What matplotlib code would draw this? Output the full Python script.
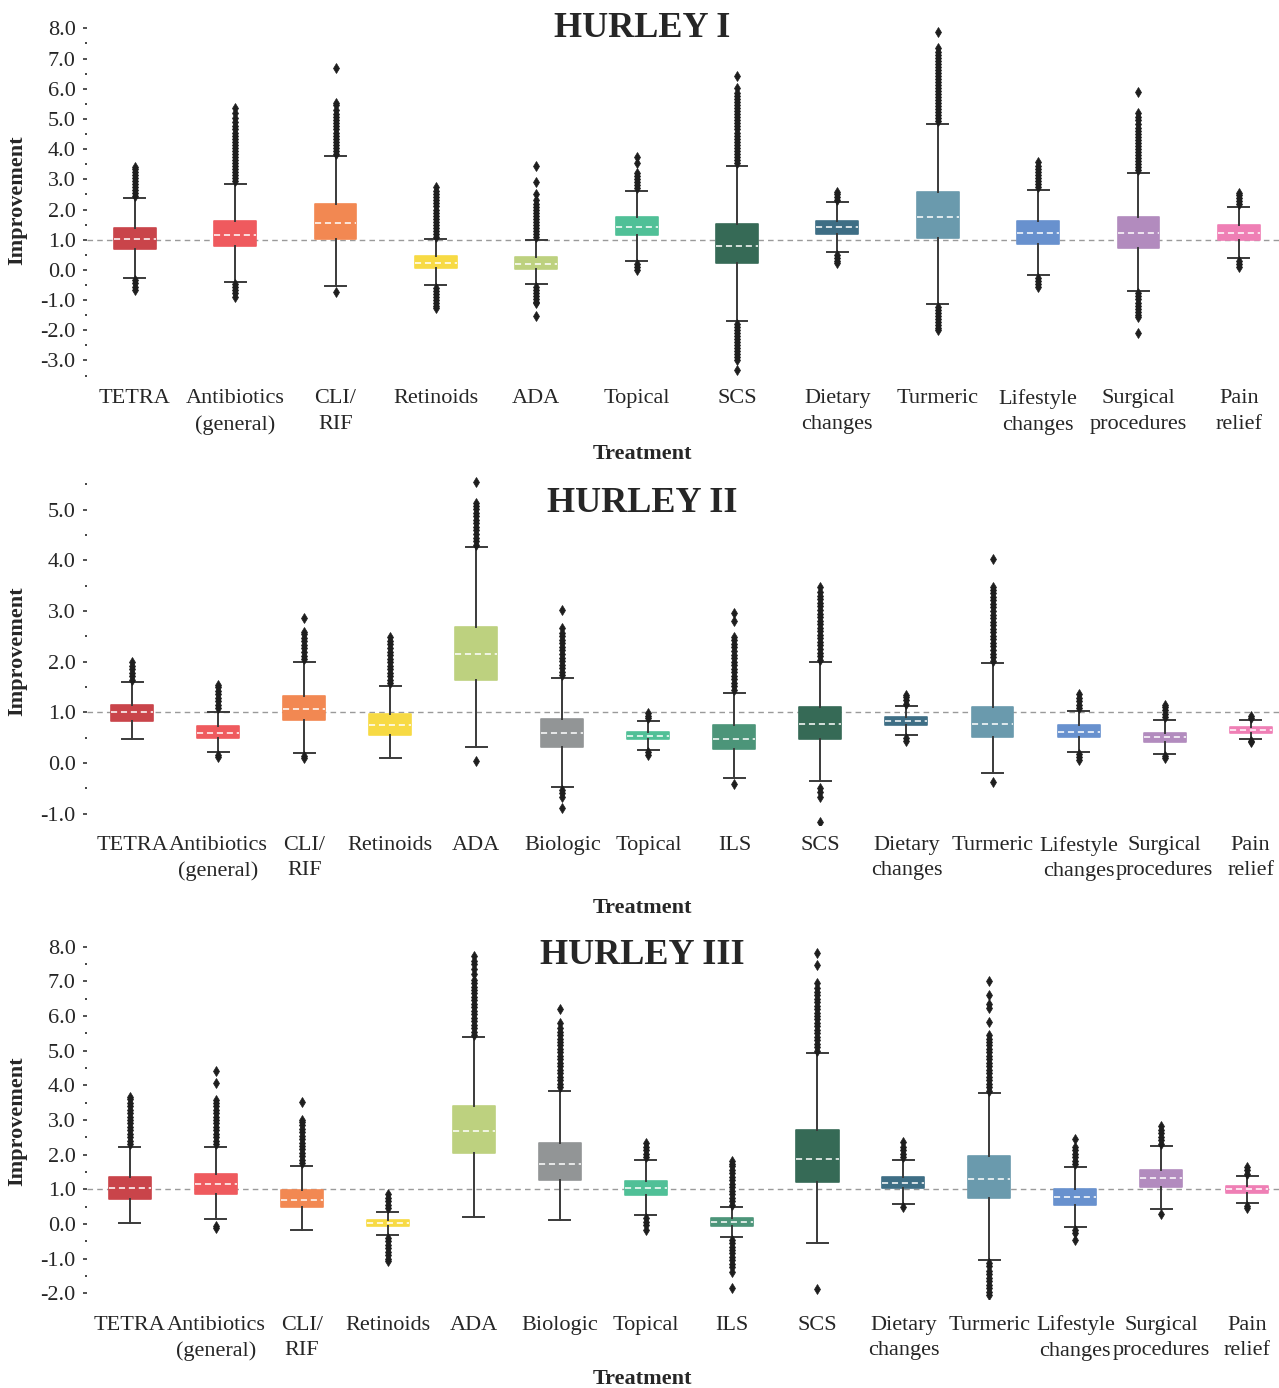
import matplotlib
matplotlib.use("Agg")
import matplotlib.pyplot as plt
from matplotlib.ticker import MultipleLocator, FormatStrFormatter

plt.rcParams['font.family'] = ['Liberation Serif', 'DejaVu Serif']
plt.rcParams['axes.unicode_minus'] = False

# ---------------- data ----------------
COLORS = {
    'TETRA': '#C9444A',
    'Antibiotics\n(general)': '#EF5A5E',
    'CLI/\nRIF': '#F28852',
    'Retinoids': '#F7DA44',
    'ADA': '#BDD17F',
    'Biologic': '#929596',
    'Topical': '#50C097',
    'ILS': '#4C9579',
    'SCS': '#366A56',
    'Dietary\nchanges': '#3E6E85',
    'Turmeric': '#6A9AAD',
    'Lifestyle\nchanges': '#6891CE',
    'Surgical\nprocedures': '#B28BBE',
    'Pain\nrelief': '#EF7FB5',
}

# HURLEY I
h1_cats = ['TETRA', 'Antibiotics\n(general)', 'CLI/\nRIF', 'Retinoids', 'ADA', 'Topical', 'SCS',
           'Dietary\nchanges', 'Turmeric', 'Lifestyle\nchanges', 'Surgical\nprocedures', 'Pain\nrelief']
h1_q1 = [0.68, 0.78, 1.03, 0.05, 0.04, 1.15, 0.22, 1.18, 1.06, 0.87, 0.74, 1.00]
h1_med = [1.02, 1.17, 1.55, 0.23, 0.20, 1.43, 0.80, 1.41, 1.76, 1.22, 1.21, 1.23]
h1_q3 = [1.40, 1.62, 2.17, 0.46, 0.44, 1.75, 1.53, 1.62, 2.59, 1.62, 1.74, 1.48]
h1_whislo = [-0.28, -0.40, -0.53, -0.51, -0.46, 0.30, -1.69, 0.58, -1.14, -0.18, -0.70, 0.39]
h1_whishi = [2.37, 2.85, 3.76, 1.02, 0.99, 2.62, 3.45, 2.24, 4.84, 2.65, 3.22, 2.09]
h1_fliers = [
    [2.45, 2.55, 2.65, 2.75, 2.85, 2.95, 3.05, 3.15, 3.25, 3.35, 3.42, -0.35, -0.45, -0.55, -0.67],
    [2.95, 3.05, 3.15, 3.25, 3.35, 3.45, 3.55, 3.65, 3.75, 3.85, 3.95, 4.05, 4.15, 4.25, 4.35, 4.45,
     4.55, 4.65, 4.78, 4.9, 5.02, 5.2, 5.35, -0.48, -0.58, -0.68, -0.78, -0.89],
    [3.85, 3.95, 4.05, 4.15, 4.25, 4.35, 4.45, 4.55, 4.65, 4.75, 4.85, 4.95, 5.05, 5.15, 5.3, 5.45,
     5.52, 6.68, -0.73],
    [1.1, 1.2, 1.3, 1.4, 1.5, 1.6, 1.7, 1.8, 1.9, 2.0, 2.1, 2.2, 2.3, 2.4, 2.5, 2.6, 2.76,
     -0.6, -0.7, -0.8, -0.9, -1.0, -1.1, -1.2, -1.27],
    [1.08, 1.18, 1.28, 1.38, 1.48, 1.58, 1.68, 1.78, 1.88, 1.98, 2.08, 2.18, 2.31, 2.5, 2.9, 3.45,
     -0.55, -0.65, -0.75, -0.85, -0.95, -1.05, -1.11, -1.53],
    [2.7, 2.8, 2.9, 3.0, 3.1, 3.2, 3.53, 3.75, 0.2, 0.1, 0.0],
    [3.55, 3.65, 3.75, 3.85, 3.95, 4.05, 4.15, 4.25, 4.35, 4.45, 4.55, 4.65, 4.75, 4.85, 4.95, 5.05,
     5.15, 5.25, 5.35, 5.45, 5.55, 5.65, 5.75, 5.85, 6.01, 6.42,
     -1.78, -1.88, -1.98, -2.08, -2.18, -2.28, -2.38, -2.48, -2.58, -2.68, -2.78, -2.88, -2.98, -3.31],
    [2.32, 2.42, 2.52, 2.59, 0.5, 0.4, 0.3, 0.22],
    [4.92, 5.02, 5.12, 5.22, 5.32, 5.42, 5.52, 5.62, 5.72, 5.82, 5.92, 6.02, 6.12, 6.22, 6.32, 6.42,
     6.52, 6.62, 6.72, 6.82, 6.92, 7.02, 7.12, 7.22, 7.34, 7.88,
     -1.22, -1.32, -1.42, -1.52, -1.62, -1.72, -1.82, -1.92, -1.99],
    [2.73, 2.83, 2.93, 3.03, 3.13, 3.23, 3.33, 3.43, 3.58, -0.26, -0.36, -0.46, -0.56],
    [3.3, 3.4, 3.5, 3.6, 3.7, 3.8, 3.9, 4.0, 4.1, 4.2, 4.3, 4.4, 4.5, 4.6, 4.7, 4.82, 4.95, 5.08,
     5.19, 5.88, -0.78, -0.88, -0.98, -1.08, -1.18, -1.28, -1.38, -1.48, -1.55, -2.10],
    [2.17, 2.27, 2.37, 2.47, 2.56, 0.31, 0.21, 0.11],
]

# HURLEY II
h2_cats = ['TETRA', 'Antibiotics\n(general)', 'CLI/\nRIF', 'Retinoids', 'ADA', 'Biologic', 'Topical',
           'ILS', 'SCS', 'Dietary\nchanges', 'Turmeric', 'Lifestyle\nchanges', 'Surgical\nprocedures',
           'Pain\nrelief']
h2_q1 = [0.83, 0.50, 0.85, 0.56, 1.64, 0.32, 0.47, 0.28, 0.48, 0.75, 0.51, 0.51, 0.41, 0.60]
h2_med = [1.00, 0.60, 1.06, 0.75, 2.16, 0.59, 0.54, 0.48, 0.76, 0.83, 0.76, 0.62, 0.51, 0.65]
h2_q3 = [1.15, 0.72, 1.33, 0.97, 2.69, 0.87, 0.62, 0.74, 1.10, 0.90, 1.10, 0.74, 0.59, 0.70]
h2_whislo = [0.47, 0.21, 0.19, 0.10, 0.31, -0.48, 0.26, -0.30, -0.35, 0.55, -0.20, 0.22, 0.17, 0.47]
h2_whishi = [1.59, 1.01, 1.99, 1.52, 4.26, 1.68, 0.83, 1.39, 1.99, 1.12, 1.97, 1.03, 0.85, 0.85]
h2_fliers = [
    [1.64, 1.71, 1.78, 1.85, 1.92, 2.00],
    [1.08, 1.15, 1.22, 1.29, 1.36, 1.43, 1.50, 1.54, 0.15, 0.12],
    [2.05, 2.12, 2.19, 2.26, 2.33, 2.40, 2.47, 2.54, 2.58, 2.87, 0.13, 0.09],
    [1.57, 1.64, 1.71, 1.78, 1.85, 1.92, 1.99, 2.06, 2.13, 2.20, 2.27, 2.34, 2.41, 2.49],
    [4.31, 4.38, 4.45, 4.52, 4.59, 4.66, 4.73, 4.80, 4.87, 4.94, 5.01, 5.08, 5.13, 5.54, 0.04],
    [1.73, 1.80, 1.87, 1.94, 2.01, 2.08, 2.15, 2.22, 2.29, 2.36, 2.43, 2.50, 2.57, 2.66, 3.02,
     -0.53, -0.60, -0.67, -0.90],
    [0.88, 0.93, 0.99, 0.21, 0.16],
    [1.44, 1.51, 1.58, 1.65, 1.72, 1.79, 1.86, 1.93, 2.00, 2.07, 2.14, 2.21, 2.28, 2.35, 2.42, 2.49,
     2.81, 2.97, -0.42],
    [2.04, 2.11, 2.18, 2.25, 2.32, 2.39, 2.46, 2.53, 2.60, 2.67, 2.74, 2.81, 2.88, 2.95, 3.02, 3.09,
     3.16, 3.23, 3.30, 3.37, 3.48, -0.50, -0.57, -0.67, -1.16],
    [1.17, 1.24, 1.30, 1.34, 0.50, 0.44],
    [2.02, 2.09, 2.16, 2.23, 2.30, 2.37, 2.44, 2.51, 2.58, 2.65, 2.72, 2.79, 2.86, 2.93, 3.00, 3.07,
     3.14, 3.21, 3.28, 3.35, 3.41, 3.48, 4.02, -0.38],
    [1.08, 1.15, 1.22, 1.29, 1.36, 0.17, 0.11, 0.06],
    [0.90, 0.97, 1.04, 1.11, 1.15, 0.13, 0.10],
    [0.89, 0.92, 0.44, 0.42],
]

# HURLEY III
h3_cats = h2_cats
h3_q1 = [0.72, 0.86, 0.48, -0.07, 2.04, 1.28, 0.83, -0.06, 1.20, 1.03, 0.75, 0.55, 1.08, 0.89]
h3_med = [1.03, 1.14, 0.69, 0.03, 2.68, 1.74, 1.03, 0.05, 1.87, 1.19, 1.29, 0.77, 1.34, 1.00]
h3_q3 = [1.36, 1.43, 0.98, 0.12, 3.40, 2.33, 1.25, 0.16, 2.71, 1.36, 1.97, 1.02, 1.56, 1.10]
h3_whislo = [0.02, 0.14, -0.17, -0.31, 0.19, 0.11, 0.26, -0.37, -0.56, 0.58, -1.04, -0.10, 0.42, 0.61]
h3_whishi = [2.21, 2.22, 1.66, 0.35, 5.38, 3.85, 1.85, 0.48, 4.92, 1.85, 3.77, 1.64, 2.24, 1.38]
h3_fliers = [
    [2.3, 2.4, 2.5, 2.6, 2.7, 2.8, 2.9, 3.0, 3.1, 3.2, 3.3, 3.4, 3.5, 3.6, 3.67],
    [2.3, 2.4, 2.5, 2.6, 2.7, 2.8, 2.9, 3.0, 3.1, 3.2, 3.3, 3.4, 3.5, 3.58, 4.06, 4.41, -0.05, -0.13],
    [1.75, 1.85, 1.95, 2.05, 2.15, 2.25, 2.35, 2.45, 2.55, 2.65, 2.75, 2.85, 2.93, 3.0, 3.51],
    [0.45, 0.55, 0.65, 0.75, 0.86, -0.4, -0.5, -0.6, -0.7, -0.8, -0.9, -1.0, -1.06],
    [5.45, 5.55, 5.65, 5.75, 5.85, 5.95, 6.05, 6.15, 6.25, 6.35, 6.45, 6.55, 6.65, 6.75, 6.85, 6.95,
     7.05, 7.2, 7.35, 7.5, 7.6, 7.73],
    [3.95, 4.05, 4.15, 4.25, 4.35, 4.45, 4.55, 4.65, 4.75, 4.85, 4.95, 5.05, 5.15, 5.25, 5.35, 5.45,
     5.55, 5.65, 5.79, 6.19],
    [1.92, 2.02, 2.12, 2.22, 2.35, 0.16, 0.06, -0.04, -0.17],
    [0.56, 0.66, 0.76, 0.86, 0.96, 1.06, 1.16, 1.26, 1.36, 1.46, 1.56, 1.66, 1.74, 1.82,
     -0.45, -0.55, -0.65, -0.75, -0.85, -0.95, -1.05, -1.15, -1.25, -1.38, -1.86],
    [5.0, 5.1, 5.2, 5.3, 5.4, 5.5, 5.6, 5.7, 5.8, 5.9, 6.0, 6.1, 6.2, 6.3, 6.4, 6.5, 6.6, 6.7, 6.8,
     6.94, 7.47, 7.81, -1.88],
    [1.93, 2.03, 2.13, 2.23, 2.37, 0.50],
    [3.85, 3.95, 4.05, 4.15, 4.25, 4.35, 4.45, 4.55, 4.65, 4.75, 4.85, 4.95, 5.05, 5.15, 5.25, 5.35,
     5.45, 5.84, 6.22, 6.34, 6.61, 7.02,
     -1.12, -1.22, -1.35, -1.45, -1.55, -1.65, -1.75, -1.85, -1.95, -2.05],
    [1.72, 1.82, 1.92, 2.02, 2.12, 2.23, 2.44, -0.17, -0.27, -0.46],
    [2.32, 2.42, 2.52, 2.62, 2.72, 2.83, 0.29],
    [1.45, 1.55, 1.65, 0.53, 0.45],
]

REF_VALUE = 1.0

# ---------------- layout (pixels of 1279 x 1388 canvas) ----------------
W, H = 1279, 1388
AX_LEFT, AX_RIGHT = 87, 1279
panels = [
    dict(title='HURLEY I', cats=h1_cats, q1=h1_q1, med=h1_med, q3=h1_q3, lo=h1_whislo, hi=h1_whishi,
         fl=h1_fliers, top=23.8, bottom=377.1, ylim=(-3.55, 8.15), xlim=(-0.476, 11.40), width=0.418,
         title_base=37.3, xlabel_base=459.3, pad=8.8),
    dict(title='HURLEY II', cats=h2_cats, q1=h2_q1, med=h2_med, q3=h2_q3, lo=h2_whislo, hi=h2_whishi,
         fl=h2_fliers, top=476.8, bottom=824.7, ylim=(-1.22, 5.65), xlim=(-0.525, 13.33), width=0.488,
         title_base=511.7, xlabel_base=912.7, pad=8.0),
    dict(title='HURLEY III', cats=h3_cats, q1=h3_q1, med=h3_med, q3=h3_q3, lo=h3_whislo, hi=h3_whishi,
         fl=h3_fliers, top=943.2, bottom=1298.5, ylim=(-2.15, 8.1), xlim=(-0.50, 13.37), width=0.489,
         title_base=964.0, xlabel_base=1384.3, pad=12.3),
]

TEXT = '#262626'
fig = plt.figure(figsize=(W / 100, H / 100), dpi=100)

for p in panels:
    ax_h = p['bottom'] - p['top']
    ax = fig.add_axes([AX_LEFT / W, 1 - p['bottom'] / H, (AX_RIGHT - AX_LEFT) / W, ax_h / H])
    n = len(p['cats'])
    stats = []
    for i in range(n):
        stats.append(dict(q1=p['q1'][i], med=p['med'][i], q3=p['q3'][i],
                          whislo=p['lo'][i], whishi=p['hi'][i], fliers=p['fl'][i]))
    res = ax.bxp(stats, positions=list(range(n)), widths=p['width'], capwidths=p['width'] * 0.5,
                 patch_artist=True, showfliers=True,
                 boxprops=dict(linewidth=1.2),
                 whiskerprops=dict(color='#3a3a3a', linewidth=1.4),
                 capprops=dict(color='#3a3a3a', linewidth=1.4),
                 medianprops=dict(color='white', linewidth=1.1, linestyle=(0, (4, 2.5))),
                 flierprops=dict(marker='d', markersize=5.3, markerfacecolor='#1e1e1e',
                                 markeredgecolor='#1e1e1e', markeredgewidth=0.5, linestyle='none'))
    for patch, cat in zip(res['boxes'], p['cats']):
        patch.set_facecolor(COLORS[cat])
        patch.set_edgecolor(COLORS[cat])
        patch.set_joinstyle('round')
        patch.set_zorder(2)
    for m in res['medians']:
        m.set_zorder(3)

    ax.axhline(REF_VALUE, color='#9a9a9a', linewidth=1.0, linestyle=(0, (4, 3)), zorder=0.5)

    ax.set_xlim(*p['xlim'])
    ax.set_ylim(*p['ylim'])
    ax.set_xticks(range(n))
    ax.set_xticklabels(p['cats'], fontsize=16, color=TEXT, linespacing=1.45)
    ax.tick_params(axis='x', length=0, pad=p['pad'])
    ax.yaxis.set_major_locator(MultipleLocator(1.0))
    ax.yaxis.set_minor_locator(MultipleLocator(0.5))
    ax.yaxis.set_major_formatter(FormatStrFormatter('%.1f'))
    ax.tick_params(axis='y', which='major', length=3.2, width=1.3, color='#444444', pad=5,
                   labelsize=16, labelcolor=TEXT)
    ax.tick_params(axis='y', which='minor', length=1.4, width=1.4, color='#444444')
    for s in ax.spines.values():
        s.set_visible(False)

    ax.set_ylabel('Improvement', fontsize=16, fontweight='bold', color=TEXT, va='center')
    ax.yaxis.set_label_coords((17.5 - AX_LEFT) / (AX_RIGHT - AX_LEFT), 0.5)
    ax.set_xlabel('Treatment', fontsize=16, fontweight='bold', color=TEXT, va='baseline')
    ax.xaxis.set_label_coords((642.8 - AX_LEFT) / (AX_RIGHT - AX_LEFT),
                              -(p['xlabel_base'] - p['bottom']) / ax_h)

    fig.text(642.5 / W, 1 - p['title_base'] / H, p['title'], ha='center', va='baseline',
             fontsize=26, fontweight='bold', color=TEXT)

fig.savefig('out.png', dpi=100, facecolor='white')
